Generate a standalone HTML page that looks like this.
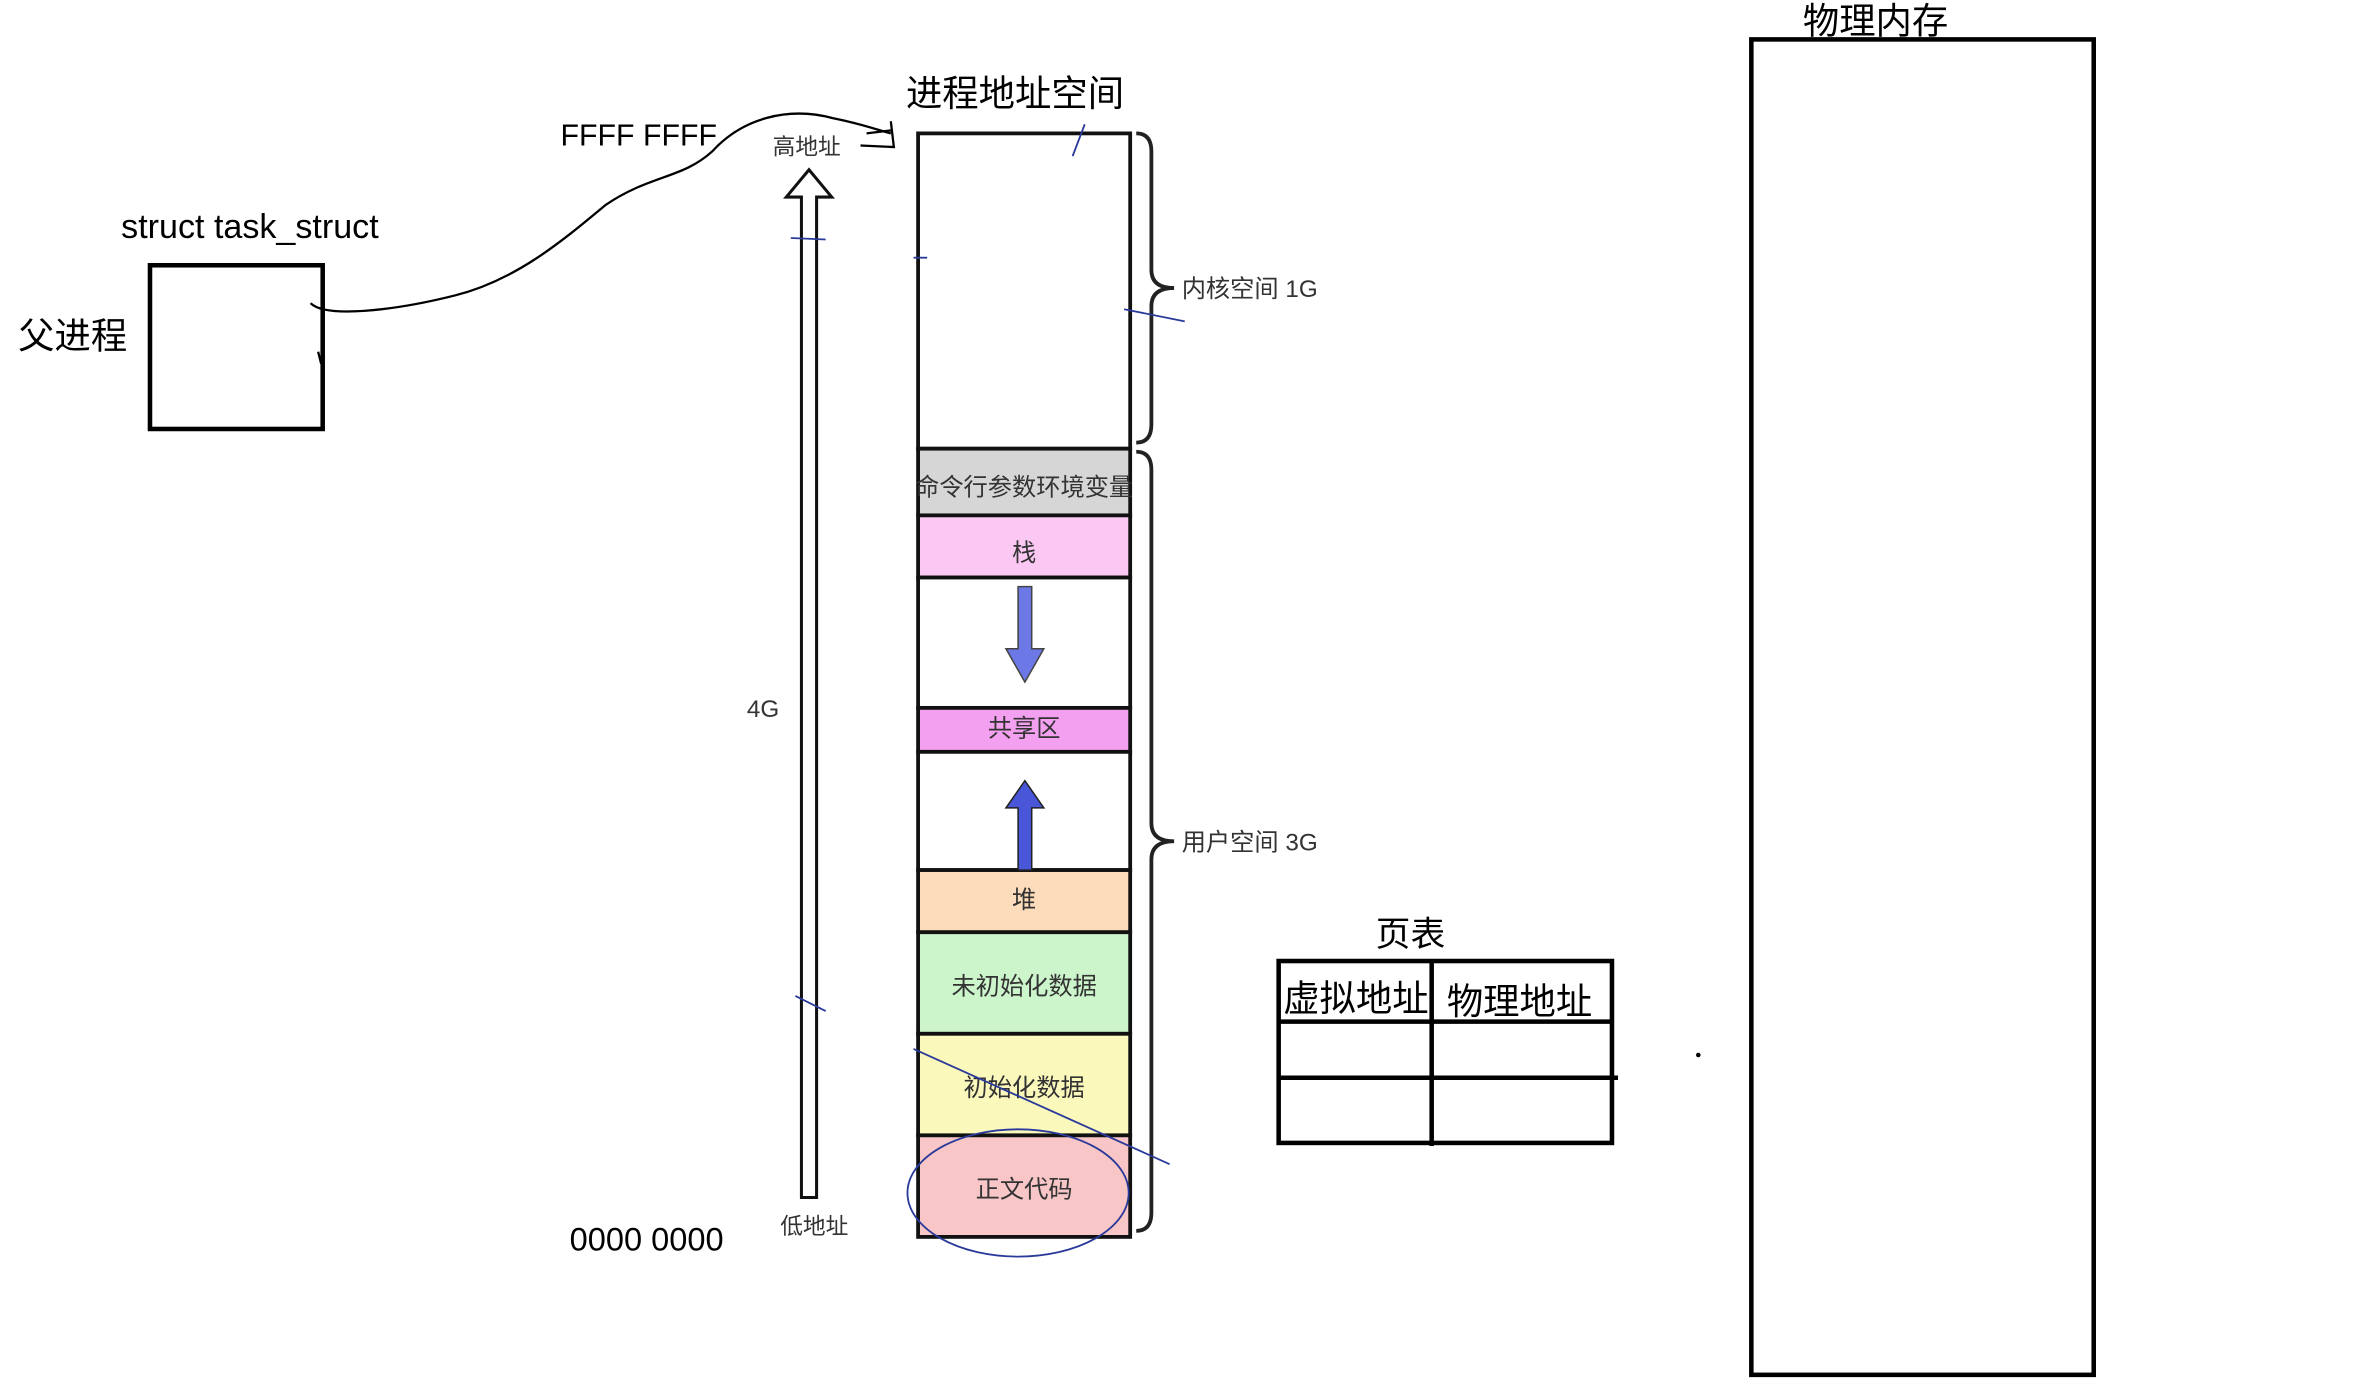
<!DOCTYPE html>
<html><head><meta charset="utf-8"><style>
html,body{margin:0;padding:0;background:#fff;}
svg{display:block;}
text{font-family:"Liberation Sans","Noto Sans CJK SC",sans-serif;}
</style></head><body>
<svg width="2374" height="1390" viewBox="0 0 1567 917" preserveAspectRatio="none" xmlns="http://www.w3.org/2000/svg">
<rect width="1567" height="917" fill="#fff"/>
<text x="1190" y="22" font-size="24" fill="#000">物理内存</text>
<rect x="1156" y="26" width="226" height="881" fill="none" stroke="#000" stroke-width="3"/>
<text x="80" y="157" font-size="22.5" fill="#000">struct task_struct</text>
<text x="12" y="230" font-size="24" fill="#000">父进程</text>
<rect x="99" y="175" width="114" height="108" fill="none" stroke="#000" stroke-width="3"/>
<path d="M205 200 C215 210 260 205 300 195 C340 185 370 160 400 135 C430 115 450 118 470 100 C490 78 520 70 550 78 C570 82 580 86 588 88" fill="none" stroke="#000" stroke-width="1.5"/>
<path d="M210 232 L212 240" stroke="#000" stroke-width="1.5"/>
<path d="M568 96 L590 97 L588 80 M572 88 L588 86" fill="none" stroke="#000" stroke-width="1.5"/>
<text x="370" y="96" font-size="20" fill="#000">FFFF FFFF</text>
<text x="510" y="102" font-size="15" fill="#333">高地址</text>
<text x="515" y="814" font-size="15" fill="#333">低地址</text>
<text x="376" y="825" font-size="21.5" fill="#000">0000 0000</text>
<text x="493" y="473" font-size="16" fill="#333">4G</text>
<path d="M529 790 L529 130 L519 130 L534 112 L549 130 L539 130 L539 790 Z" fill="#fff" stroke="#111" stroke-width="2"/>
<text x="598" y="70" font-size="24" fill="#000">进程地址空间</text>
<g stroke="#111" stroke-width="2.5">
<rect x="606" y="88" width="140" height="208" fill="#fff"/>
<rect x="606" y="296" width="140" height="44" fill="#d6d6d6"/>
<rect x="606" y="340" width="140" height="41" fill="#fbc8f4"/>
<rect x="606" y="381" width="140" height="86" fill="#fff"/>
<rect x="606" y="467" width="140" height="29" fill="#f4a0f0"/>
<rect x="606" y="496" width="140" height="78" fill="#fff"/>
<rect x="606" y="574" width="140" height="41" fill="#fddcbc"/>
<rect x="606" y="615" width="140" height="67" fill="#ccf5cc"/>
<rect x="606" y="682" width="140" height="67" fill="#fbf8bc"/>
<rect x="606" y="749" width="140" height="67" fill="#f8c6c6"/>
</g>
<g font-size="16" fill="#333" text-anchor="middle">
<text x="676" y="327">命令行参数环境变量</text>
<text x="676" y="370">栈</text>
<text x="676" y="486">共享区</text>
<text x="676" y="599">堆</text>
<text x="676" y="656">未初始化数据</text>
<text x="676" y="723">初始化数据</text>
<text x="676" y="790">正文代码</text>
</g>
<path d="M672 387 L681 387 L681 428 L689 428 L676.5 450 L664 428 L672 428 Z" fill="#6c78e6" stroke="#444" stroke-width="1"/>
<path d="M672 574 L681 574 L681 533 L689 533 L676.5 515 L664 533 L672 533 Z" fill="#4a56d8" stroke="#222" stroke-width="1"/>
<path d="M750 88 Q760 88 760 100 L760 178 Q760 190 775 190 Q760 190 760 202 L760 280 Q760 292 750 292" fill="none" stroke="#222" stroke-width="2.5"/>
<path d="M750 298 Q760 298 760 310 L760 543 Q760 555 775 555 Q760 555 760 567 L760 800 Q760 812 750 812" fill="none" stroke="#222" stroke-width="2.5"/>
<text x="780" y="196" font-size="16" fill="#333">内核空间 1G</text>
<text x="780" y="561" font-size="16" fill="#333">用户空间 3G</text>
<g stroke="#2a3a9a" stroke-width="1.2" fill="none">
<ellipse cx="672" cy="787" rx="73" ry="42"/>
<path d="M603 692 L772 768"/>
<path d="M708 103 L716 82"/>
<path d="M742 204 L782 212"/>
<path d="M603 170 L612 170"/>
<path d="M522 157 L545 158"/>
<path d="M525 657 L545 667"/>
</g>
<text x="908" y="624" font-size="23" fill="#000">页表</text>
<g stroke="#000" stroke-width="3" fill="none">
<rect x="844" y="634" width="220" height="120"/>
<path d="M844 674 L1064 674 M844 711 L1068 711 M945 634 L945 756"/>
</g>
<text x="847" y="667" font-size="24" fill="#000">虚拟地址</text>
<text x="955" y="669" font-size="24" fill="#000">物理地址</text>
<circle cx="1121" cy="696" r="1.5" fill="#000"/>
</svg>
</body></html>
